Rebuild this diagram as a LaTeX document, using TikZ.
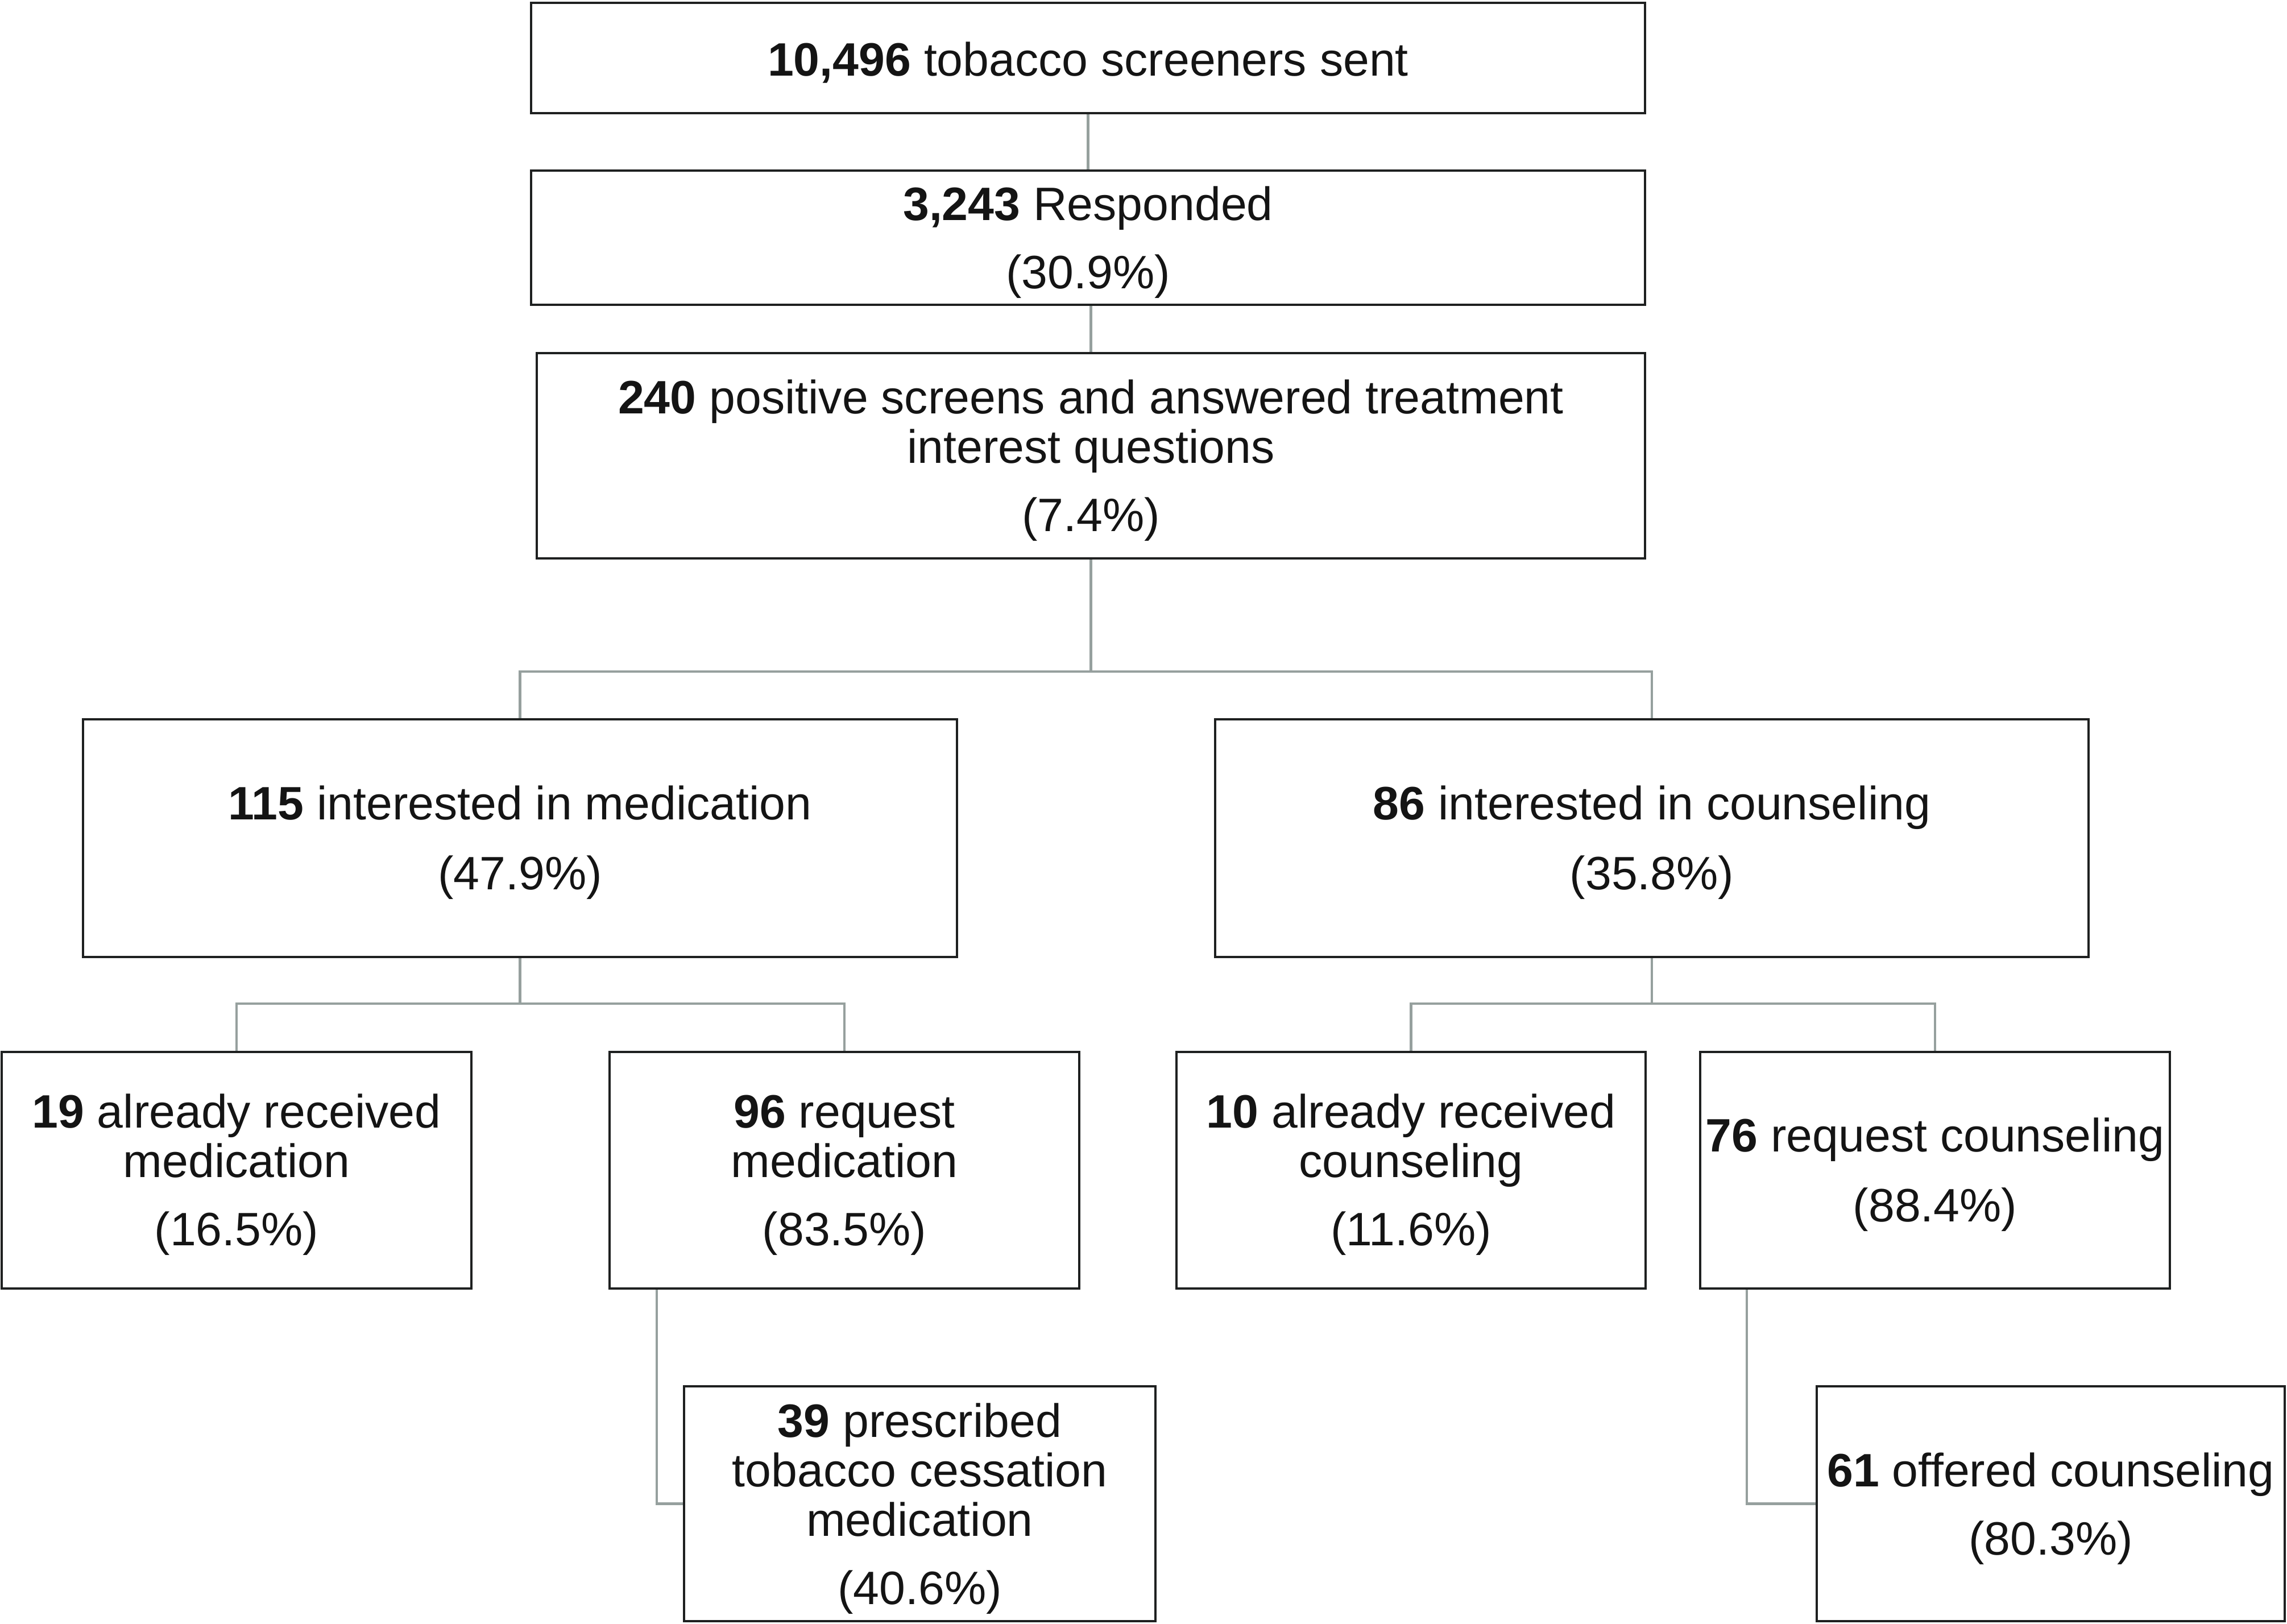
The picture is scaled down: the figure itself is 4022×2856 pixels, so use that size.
\documentclass[tikz,border=0pt]{standalone}
\usepackage{fontspec}
\setmainfont{Liberation Sans}
\definecolor{linegray}{RGB}{150,160,158}
\definecolor{boxline}{RGB}{30,32,32}
\definecolor{txt}{RGB}{20,20,20}
\newcommand{\tstr}{\rule{0pt}{19pt}}
\begin{document}
\begin{tikzpicture}[x=0.25pt,y=-0.25pt,
  box/.style 2 args={draw=boxline, line width=1.15pt, fill=white, inner sep=0pt,
    align=center, minimum width=#1*0.25pt, minimum height=#2*0.25pt,
    font=\fontsize{20.6pt}{21.75pt}\selectfont, text=txt},
  conn/.style={draw=linegray, line width=1.1pt}]
\useasboundingbox (0,0) rectangle (4022,2856);

\node[box={1959}{194}] (b1) at (1913.5,102) {\tstr\textbf{10,496} tobacco screeners sent};
\node[box={1959}{236}] (b2) at (1913.5,418) {\tstr\textbf{3,243} Responded\\[8.25pt](30.9\%)};
\node[box={1949}{361}] (b3) at (1918.5,801.5) {\tstr\textbf{240} positive screens and answered treatment\\interest questions\\[8.25pt](7.4\%)};
\node[box={1537}{418}] (b4) at (914.5,1474) {\tstr\textbf{115} interested in medication\\[9pt](47.9\%)};
\node[box={1536}{418}] (b5) at (2905,1474) {\tstr\textbf{86} interested in counseling\\[9pt](35.8\%)};
\node[box={826}{416}] (b6) at (416,2058) {\tstr\textbf{19} already received\\medication\\[8.25pt](16.5\%)};
\node[box={826}{416}] (b7) at (1485,2058) {\tstr\textbf{96} request\\medication\\[8.25pt](83.5\%)};
\node[box={825}{416}] (b8) at (2481.5,2058) {\tstr\textbf{10} already received\\counseling\\[8.25pt](11.6\%)};
\node[box={826}{416}] (b9) at (3403,2058) {\tstr\textbf{76} request counseling\\[9pt](88.4\%)};
\node[box={829}{413}] (b10) at (1617.5,2644.5) {\tstr\textbf{39} prescribed\\tobacco cessation\\medication\\[8.25pt](40.6\%)};
\node[box={823}{413}] (b11) at (3606.5,2644.5) {\tstr\textbf{61} offered counseling\\[8.25pt](80.3\%)};

\coordinate (j1) at (1918.5,1181);
\coordinate (j2) at (914.5,1765);
\coordinate (j3) at (2905,1765);

\draw[conn] (b1.south) -- (b1.south |- b2.north);
\draw[conn] (b3.north |- b2.south) -- (b3.north);
\draw[conn] (b3.south) -- (j1);
\draw[conn] (b4.north) |- (j1) -| (b5.north);
\draw[conn] (b4.south) -- (j2);
\draw[conn] (b6.north) |- (j2) -| (b7.north);
\draw[conn] (b5.south) -- (j3);
\draw[conn] (b8.north) |- (j3) -| (b9.north);
\draw[conn] (b7.south west) ++(85,0) |- (b10.west);
\draw[conn] (b9.south west) ++(84,0) |- (b11.west);
\end{tikzpicture}
\end{document}
